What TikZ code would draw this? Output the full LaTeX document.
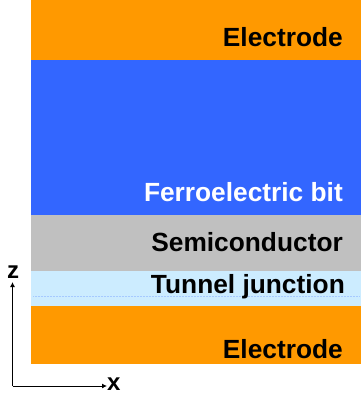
\documentclass[tikz,border=0pt]{standalone}
\usepackage{fontspec}
\setmainfont{Liberation Sans}
\usetikzlibrary{arrows.meta}

\definecolor{electrodeorange}{RGB}{255,153,0}
\definecolor{ferroblue}{RGB}{51,102,255}
\definecolor{semigray}{RGB}{192,192,192}
\definecolor{tunnelblue}{RGB}{204,236,255}

\begin{document}
\begin{tikzpicture}[x=1pt,y=-1pt,>=Latex]

% --- Global TikZ Styles ---
\tikzset{
    electrode/.style={
        fill=electrodeorange
    },
    ferro/.style={
        fill=ferroblue
    },
    semi/.style={
        fill=semigray
    },
    tunnel/.style={
        fill=tunnelblue
    },
    layerlabel/.style={
        anchor=base east,
        inner sep=0pt,
        font=\bfseries\fontsize{26.3}{26.3}\selectfont
    },
    axis/.style={
        ->,
        >={Latex[length=5pt,width=5pt]},
        draw=black,
        line width=0.9pt
    },
    axislabel/.style={
        inner sep=0pt,
        font=\bfseries\fontsize{24}{24}\selectfont
    }
}

% Bounding box
\useasboundingbox (0,0) rectangle (361,403);

% ==================================================
% --- Layer stack ---
% ==================================================

\path[electrode] (31,0)   rectangle (361,60);
\path[ferro]     (31,60)  rectangle (361,215);
\path[semi]      (31,215) rectangle (361,271);
\path[tunnel]    (31,271) rectangle (361,306);
\path[electrode] (31,306) rectangle (361,364);

% faint texture in the tunnel layer
\draw[tunnelblue!75!ferroblue, densely dotted, line width=0.5pt]
    (33,296) -- (359,296);

% ==================================================
% --- Layer labels ---
% ==================================================

\node[layerlabel] (topelec) at (343,47) {Electrode};
\node[layerlabel, text=white] (ferrobit) at (343,201) {Ferroelectric bit};
\node[layerlabel] (semicond) at (343,251) {Semiconductor};
\node[layerlabel] (tunneljn) at (345,293) {Tunnel junction};
\node[layerlabel] (botelec) at (343,358) {Electrode};

% ==================================================
% --- Axes ---
% ==================================================

\coordinate (origin) at (12.5,386);
\coordinate (ztip) at (12.5,282);
\coordinate (xtip) at (107,386);

\node[axislabel, anchor=base] (zlabel) at (13,278) {z};
\node[axislabel, anchor=west] (xlabel) at (107,384) {x};

\draw[axis] (origin) -- (ztip);
\draw[axis] (origin) -- (xtip);

\end{tikzpicture}
\end{document}
